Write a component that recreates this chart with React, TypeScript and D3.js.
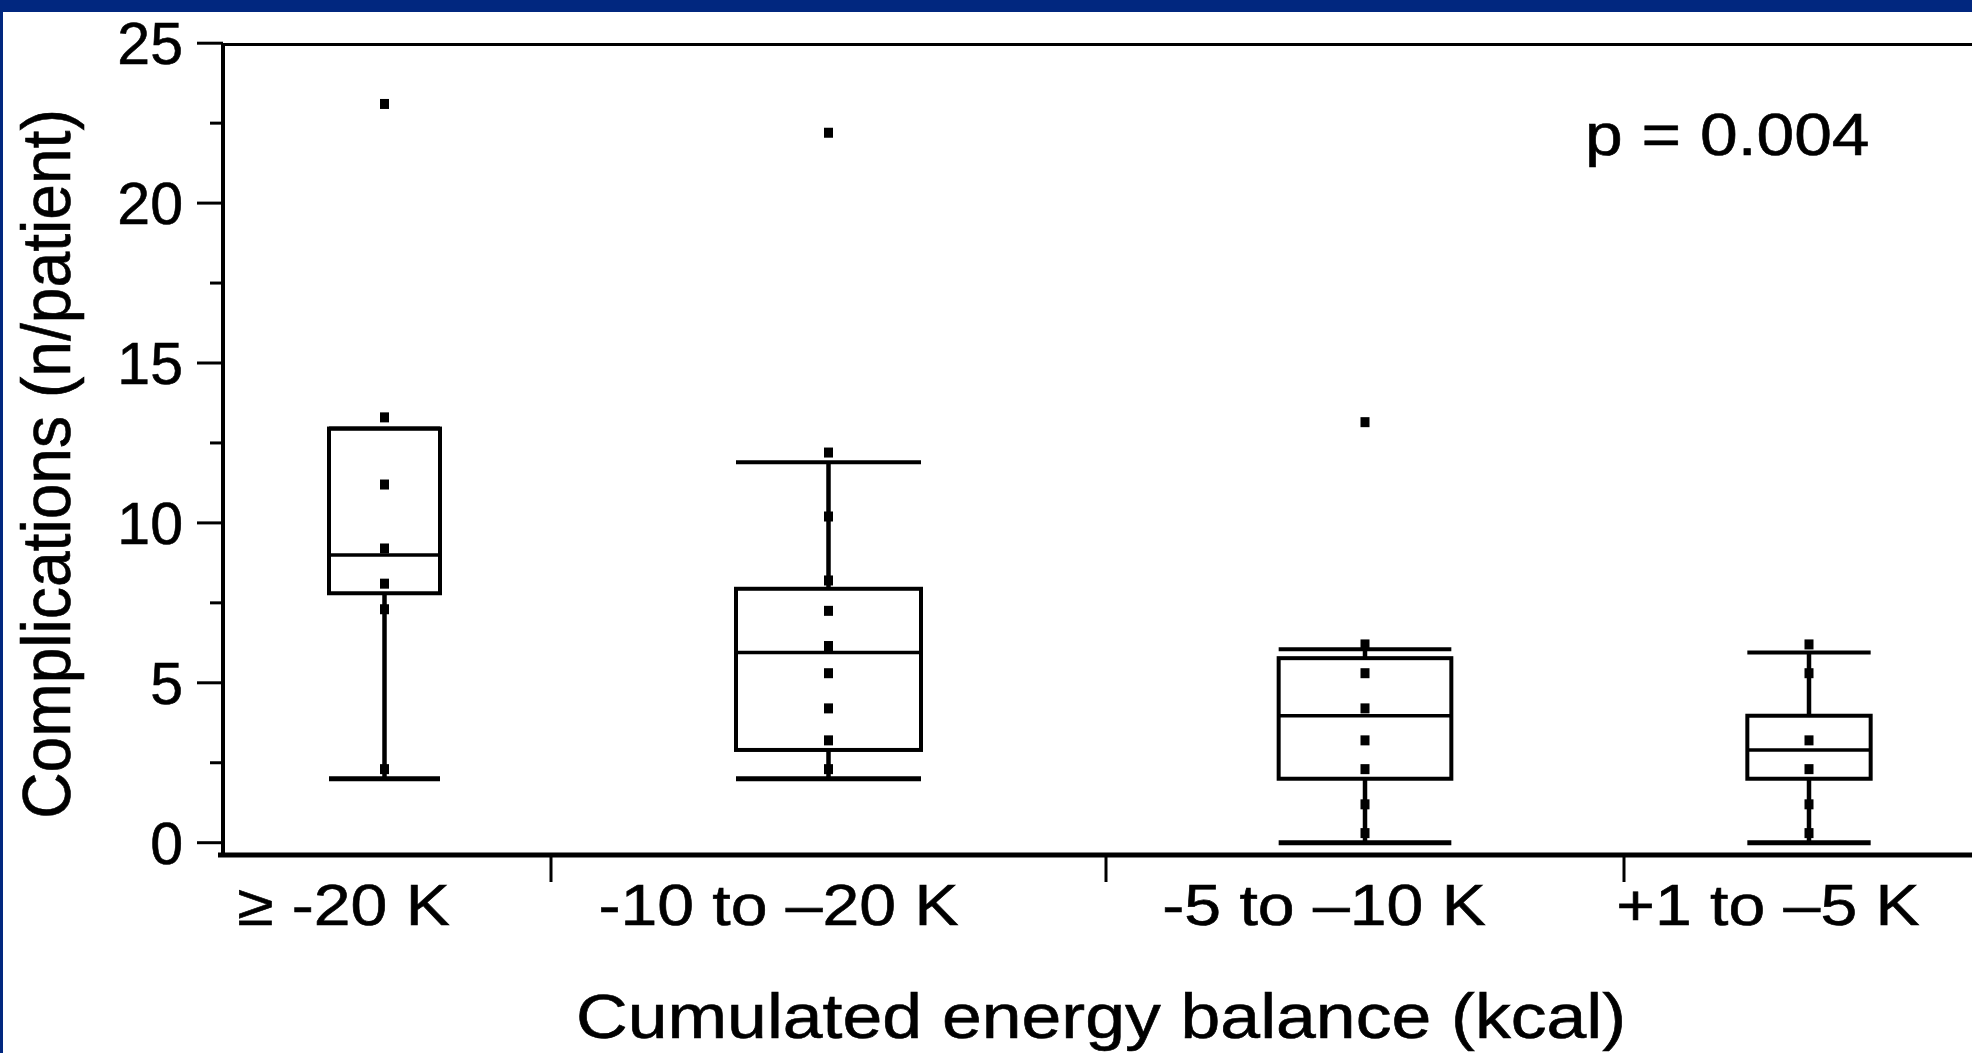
import React from "react";
import * as d3 from "d3";

const categories = ["≥ -20 K", "-10 to –20 K", "-5 to –10 K", "+1 to –5 K"];
const groupN = [9, 15, 14, 10];
const q1 = [7.8, 2.9, 2.0, 2.0];
const medians = [9.0, 5.95, 3.97, 2.9];
const q3 = [12.95, 7.94, 5.77, 3.97];
const whiskerLow = [2.0, 2.0, 0, 0];
const whiskerHigh = [12.95, 11.9, 6.05, 5.95];
const points = [
  [13.3, 11.2, 9.2, 8.1, 7.3, 2.3],
  [12.2, 10.2, 8.2, 7.25, 6.15, 5.3, 4.2, 3.2, 2.3],
  [6.2, 5.3, 4.2, 3.2, 2.3, 1.2, 0.3],
  [6.2, 5.3, 3.2, 2.3, 1.2, 0.3],
];
const outliers = [[23.1], [22.2], [13.15], []];
const yTicks = [0, 5, 10, 15, 20, 25];
const yMinorTicks = [2.5, 7.5, 12.5, 17.5, 22.5];
const pValueLabel = "p = 0.004";
const xTitle = "Cumulated energy balance (kcal)";
const yTitle = "Complications (n/patient)";

const W = 1972;
const H = 1053;
const FONT = "'Liberation Sans', Arial, Helvetica, sans-serif";
const BLUE = "#01277f";
const TEXT_STROKE = 0.6;

export default function App() {
  const total = d3.sum(groupN);
  const x = d3.scaleLinear().domain([0, total]).range([218, 1994]);
  const y = d3.scaleLinear().domain([0, 25]).range([842.7, 43.2]);
  const starts = [0, ...Array.from(d3.cumsum(groupN))];
  const groups = categories.map((c, i) => {
    const x0 = x(starts[i]);
    const x1 = x(starts[i + 1]);
    const cx = (x0 + x1) / 2;
    const bw = (x1 - x0) / 3;
    return { c, i, x0, x1, cx, bw };
  });
  const axisX = 223;
  const axisBottom = 855;
  const frameTop = y(25) + 1.3;

  return (
    <div style={{ position: "fixed", left: 0, top: 0 }}>
      <svg width={W} height={H} style={{ display: "block", background: "#fff" }}>
        <rect x={0} y={0} width={W} height={H} fill="#fff" />
        {/* frame */}
        <line x1={axisX} x2={W} y1={frameTop} y2={frameTop} stroke="#000" strokeWidth={3} />
        <line x1={axisX} x2={axisX} y1={frameTop - 1.5} y2={axisBottom + 2} stroke="#000" strokeWidth={4} />
        <line x1={218} x2={W} y1={axisBottom} y2={axisBottom} stroke="#000" strokeWidth={5} />

        {/* y ticks */}
        {yTicks.map((t) => (
          <g key={"yt" + t}>
            <line x1={197} x2={axisX} y1={y(t)} y2={y(t)} stroke="#000" strokeWidth={3} />
            <text
              x={183}
              y={y(t) + 21}
              textAnchor="end"
              fontFamily={FONT}
              fontSize={59}
              fill="#000"
              stroke="#000"
              strokeWidth={TEXT_STROKE}
            >
              {t}
            </text>
          </g>
        ))}
        {yMinorTicks.map((t) => (
          <line key={"ym" + t} x1={210} x2={axisX} y1={y(t)} y2={y(t)} stroke="#000" strokeWidth={3} />
        ))}

        {/* category separators */}
        {starts.slice(1, -1).map((s, i) => (
          <line key={"sep" + i} x1={x(s)} x2={x(s)} y1={axisBottom} y2={882} stroke="#000" strokeWidth={3} />
        ))}

        {/* boxes */}
        {groups.map((g) => {
          const i = g.i;
          const bx0 = g.cx - g.bw / 2;
          return (
            <g key={"box" + i}>
              {whiskerHigh[i] > q3[i] && (
                <line x1={g.cx} x2={g.cx} y1={y(whiskerHigh[i])} y2={y(q3[i])} stroke="#000" strokeWidth={4.5} />
              )}
              <line x1={g.cx} x2={g.cx} y1={y(q1[i])} y2={y(whiskerLow[i])} stroke="#000" strokeWidth={4.5} />
              <line x1={bx0} x2={bx0 + g.bw} y1={y(whiskerHigh[i])} y2={y(whiskerHigh[i])} stroke="#000" strokeWidth={4} />
              <line x1={bx0} x2={bx0 + g.bw} y1={y(whiskerLow[i])} y2={y(whiskerLow[i])} stroke="#000" strokeWidth={5} />
              <rect
                x={bx0}
                y={y(q3[i])}
                width={g.bw}
                height={y(q1[i]) - y(q3[i])}
                fill="none"
                stroke="#000"
                strokeWidth={4}
              />
              <line x1={bx0} x2={bx0 + g.bw} y1={y(medians[i])} y2={y(medians[i])} stroke="#000" strokeWidth={3.5} />
              {points[i].map((v, k) => (
                <rect key={"p" + k} x={g.cx - 4.5} y={y(v) - 5} width={9} height={10} fill="#000" />
              ))}
              {outliers[i].map((v, k) => (
                <rect key={"o" + k} x={g.cx - 4.5} y={y(v) - 5} width={9} height={10} fill="#000" />
              ))}
            </g>
          );
        })}

        {/* x labels */}
        {groups.map((g) => (
          <text
            key={"xl" + g.i}
            transform={`translate(${g.cx - (g.i === 1 ? 50 : 41)},925) scale(1.14,1)`}
            textAnchor="middle"
            fontFamily={FONT}
            fontSize={58}
            fill="#000"
            stroke="#000"
            strokeWidth={TEXT_STROKE}
          >
            {g.c}
          </text>
        ))}

        {/* titles */}
        <text
          transform={`translate(1101,1038) scale(1.136,1)`}
          textAnchor="middle"
          fontFamily={FONT}
          fontSize={63}
          fill="#000"
          stroke="#000"
          strokeWidth={TEXT_STROKE}
        >
          {xTitle}
        </text>
        <text
          transform={`translate(70,464) rotate(-90) scale(0.93,1)`}
          textAnchor="middle"
          fontFamily={FONT}
          fontSize={69}
          fill="#000"
          stroke="#000"
          strokeWidth={TEXT_STROKE}
        >
          {yTitle}
        </text>
        <text
          transform={`translate(1585,155) scale(1.13,1)`}
          textAnchor="start"
          fontFamily={FONT}
          fontSize={60}
          fill="#000"
          stroke="#000"
          strokeWidth={TEXT_STROKE}
        >
          {pValueLabel}
        </text>

        {/* slide frame */}
        <rect x={0} y={0} width={W} height={12} fill={BLUE} />
        <rect x={0} y={0} width={3} height={H} fill={BLUE} />
      </svg>
    </div>
  );
}
